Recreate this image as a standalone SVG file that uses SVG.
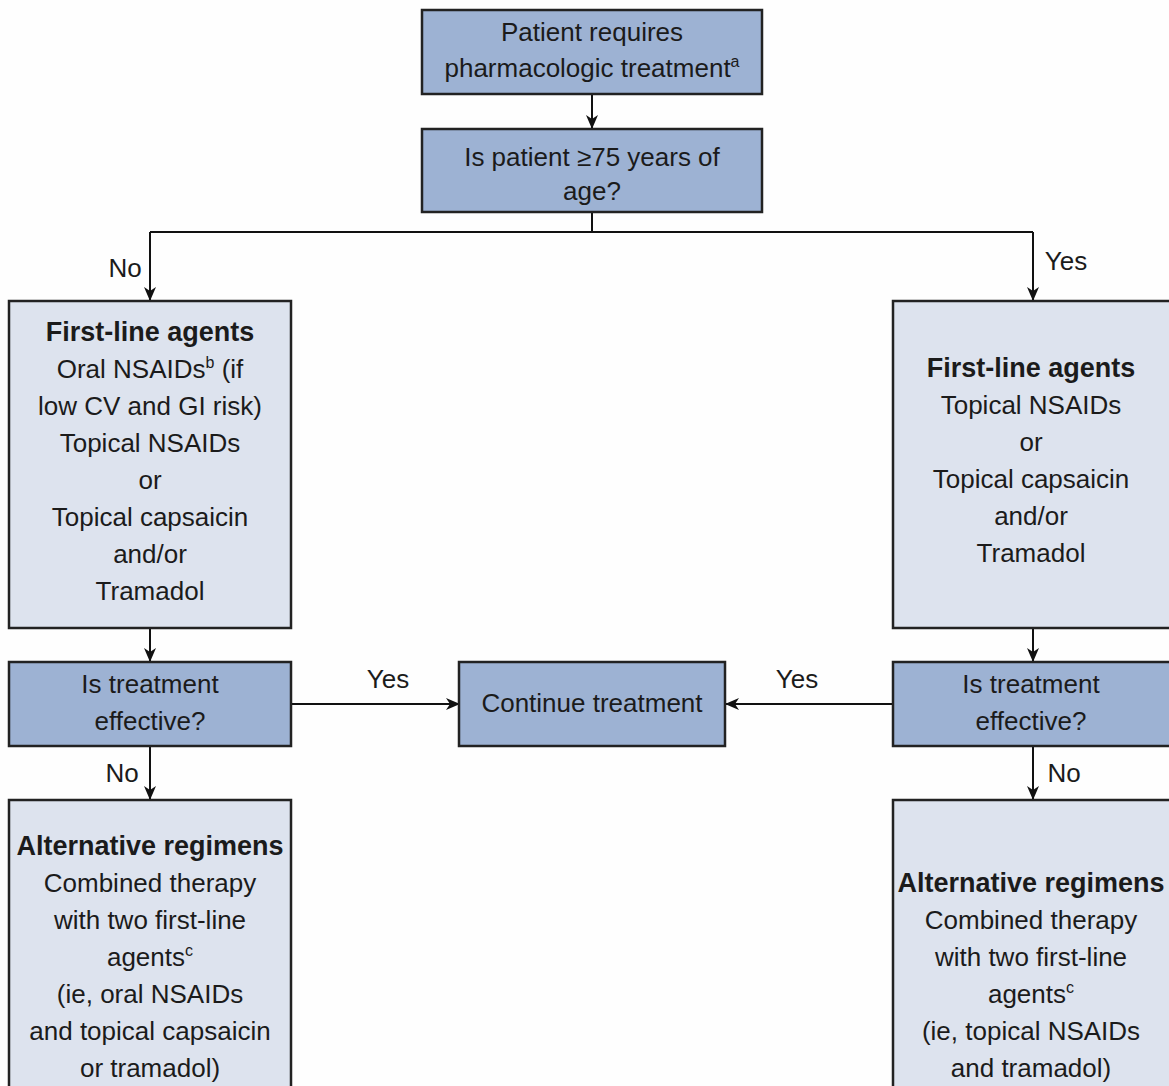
<svg xmlns="http://www.w3.org/2000/svg" width="1169" height="1086" viewBox="0 0 1169 1086">
  <style>
    text { font-family: "Liberation Sans", Arial, sans-serif; font-size: 26px; fill: #1b1b1b; text-anchor: middle; }
    .b { font-weight: bold; font-size: 27px; }
    .sup { font-size: 16px; }
    .dark { fill: #9db2d3; stroke: #222; stroke-width: 2.5; }
    .light { fill: #dde3ee; stroke: #222; stroke-width: 2.5; }
    .edge { fill: none; stroke: #111; stroke-width: 2; }
  </style>
  <defs>
    <marker id="arrow" viewBox="0 0 14 12" refX="13" refY="6" markerWidth="14" markerHeight="12" markerUnits="userSpaceOnUse" orient="auto">
      <path d="M0,0 L14,6 L0,12 L4,6 z" fill="#111"/>
    </marker>
  </defs>
  <rect width="1169" height="1086" fill="#fefefe"/>

  <g id="connectors">
    <line class="edge" x1="592" y1="94" x2="592" y2="128" marker-end="url(#arrow)"/>
    <polyline class="edge" points="592,212 592,232"/>
    <polyline class="edge" points="150,232 1033,232"/>
    <line class="edge" x1="150" y1="232" x2="150" y2="300" marker-end="url(#arrow)"/>
    <line class="edge" x1="1033" y1="232" x2="1033" y2="300" marker-end="url(#arrow)"/>
    <line class="edge" x1="150" y1="628" x2="150" y2="661" marker-end="url(#arrow)"/>
    <line class="edge" x1="1033" y1="628" x2="1033" y2="661" marker-end="url(#arrow)"/>
    <line class="edge" x1="291" y1="704" x2="459" y2="704" marker-end="url(#arrow)"/>
    <line class="edge" x1="893" y1="704" x2="726" y2="704" marker-end="url(#arrow)"/>
    <line class="edge" x1="150" y1="746" x2="150" y2="799" marker-end="url(#arrow)"/>
    <line class="edge" x1="1033" y1="746" x2="1033" y2="799" marker-end="url(#arrow)"/>
    <text x="125" y="277">No</text>
    <text x="1066" y="270">Yes</text>
    <text x="388" y="688">Yes</text>
    <text x="797" y="688">Yes</text>
    <text x="122" y="782">No</text>
    <text x="1064" y="782">No</text>
  </g>

  <g id="start">
    <rect class="dark" x="422" y="10" width="340" height="84"/>
    <text x="592" y="41">Patient requires</text>
    <text x="592" y="77">pharmacologic treatment<tspan class="sup" dy="-10">a</tspan></text>
  </g>

  <g id="age-check">
    <rect class="dark" x="422" y="129" width="340" height="83"/>
    <text x="592" y="166">Is patient ≥75 years of</text>
    <text x="592" y="200">age?</text>
  </g>

  <g id="first-line-under-75">
    <rect class="light" x="9" y="301" width="282" height="327"/>
    <text class="b" x="150" y="341">First-line agents</text>
    <text x="150" y="378">Oral NSAIDs<tspan class="sup" dy="-10">b</tspan><tspan dy="10"> (if</tspan></text>
    <text x="150" y="415">low CV and GI risk)</text>
    <text x="150" y="452">Topical NSAIDs</text>
    <text x="150" y="489">or</text>
    <text x="150" y="526">Topical capsaicin</text>
    <text x="150" y="563">and/or</text>
    <text x="150" y="600">Tramadol</text>
  </g>

  <g id="first-line-75-plus">
    <rect class="light" x="893" y="301" width="280" height="327"/>
    <text class="b" x="1031" y="377">First-line agents</text>
    <text x="1031" y="414">Topical NSAIDs</text>
    <text x="1031" y="451">or</text>
    <text x="1031" y="488">Topical capsaicin</text>
    <text x="1031" y="525">and/or</text>
    <text x="1031" y="562">Tramadol</text>
  </g>

  <g id="effective-left">
    <rect class="dark" x="9" y="662" width="282" height="84"/>
    <text x="150" y="693">Is treatment</text>
    <text x="150" y="730">effective?</text>
  </g>

  <g id="continue">
    <rect class="dark" x="459" y="662" width="266" height="84"/>
    <text x="592" y="712">Continue treatment</text>
  </g>

  <g id="effective-right">
    <rect class="dark" x="893" y="662" width="280" height="84"/>
    <text x="1031" y="693">Is treatment</text>
    <text x="1031" y="730">effective?</text>
  </g>

  <g id="alternative-left">
    <rect class="light" x="9" y="800" width="282" height="300"/>
    <text class="b" x="150" y="855">Alternative regimens</text>
    <text x="150" y="892">Combined therapy</text>
    <text x="150" y="929">with two first-line</text>
    <text x="150" y="966">agents<tspan class="sup" dy="-10">c</tspan></text>
    <text x="150" y="1003">(ie, oral NSAIDs</text>
    <text x="150" y="1040">and topical capsaicin</text>
    <text x="150" y="1077">or tramadol)</text>
  </g>

  <g id="alternative-right">
    <rect class="light" x="893" y="800" width="280" height="300"/>
    <text class="b" x="1031" y="892">Alternative regimens</text>
    <text x="1031" y="929">Combined therapy</text>
    <text x="1031" y="966">with two first-line</text>
    <text x="1031" y="1003">agents<tspan class="sup" dy="-10">c</tspan></text>
    <text x="1031" y="1040">(ie, topical NSAIDs</text>
    <text x="1031" y="1077">and tramadol)</text>
  </g>
</svg>
